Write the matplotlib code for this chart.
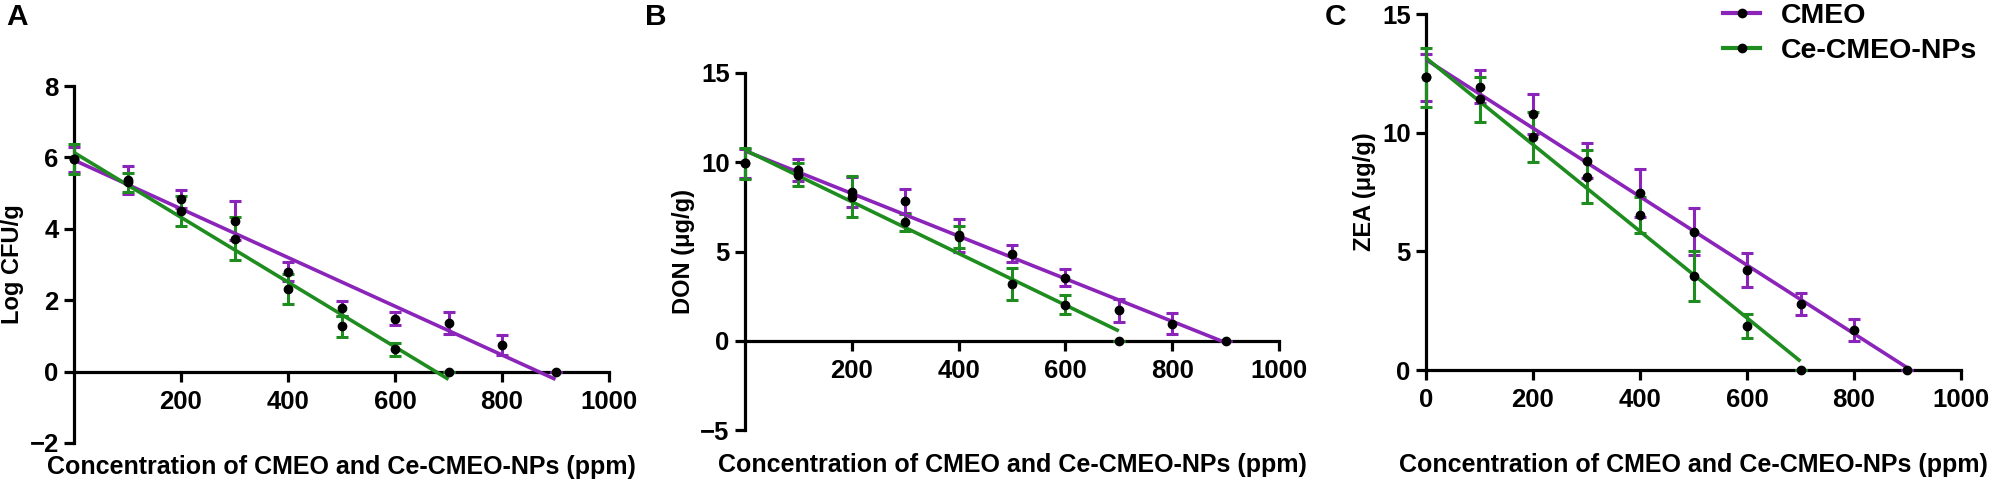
import numpy as np
import matplotlib
matplotlib.use("Agg")
import matplotlib.pyplot as plt
from matplotlib.lines import Line2D

plt.rcParams['font.family'] = ['Liberation Sans', 'DejaVu Sans']
plt.rcParams['font.weight'] = 'bold'

PURPLE = "#8B24B8"
GREEN = "#1F8C1F"

# ---------------- data ----------------
x_cmeo = [0, 100, 200, 300, 400, 500, 600, 700, 800, 900]
x_np = [0, 100, 200, 300, 400, 500, 600, 700]

# Panel A : Log CFU/g
A_cmeo = [5.95, 5.37, 4.83, 4.23, 2.80, 1.78, 1.48, 1.36, 0.74, 0.0]
A_cmeo_err = [0.35, 0.40, 0.26, 0.54, 0.27, 0.21, 0.18, 0.30, 0.28, 0.0]
A_np = [5.96, 5.30, 4.50, 3.72, 2.31, 1.27, 0.62, 0.0]
A_np_err = [0.42, 0.27, 0.42, 0.60, 0.41, 0.30, 0.18, 0.0]

# Panel B : DON (ug/g)
B_cmeo = [9.94, 9.57, 8.36, 7.83, 5.90, 4.87, 3.54, 1.70, 0.95, 0.0]
B_cmeo_err = [0.80, 0.60, 0.84, 0.67, 0.93, 0.47, 0.47, 0.65, 0.59, 0.0]
B_np = [9.94, 9.30, 8.08, 6.64, 5.80, 3.17, 2.01, 0.0]
B_np_err = [0.88, 0.65, 1.15, 0.48, 0.62, 0.88, 0.53, 0.0]

# Panel C : ZEA (ug/g)
C_cmeo = [12.33, 11.94, 10.78, 8.81, 7.45, 5.83, 4.21, 2.78, 1.69, 0.0]
C_cmeo_err = [1.00, 0.70, 0.84, 0.74, 1.00, 0.98, 0.73, 0.48, 0.45, 0.0]
C_np = [12.33, 11.41, 9.83, 8.15, 6.53, 3.96, 1.85, 0.0]
C_np_err = [1.25, 0.95, 1.05, 1.13, 0.75, 1.05, 0.50, 0.0]

xlabel = "Concentration of CMEO and Ce-CMEO-NPs (ppm)"
series_labels = ["CMEO", "Ce-CMEO-NPs"]

W, H = 2000, 483
fig = plt.figure(figsize=(W / 100, H / 100), dpi=100)


def px_axes(l, r, top, bot):
    return [l / W, 1 - bot / H, (r - l) / W, (bot - top) / H]


panels = [
    dict(rect=px_axes(74, 609, 86, 443), ylim=(-2, 8), yticks=[-2, 0, 2, 4, 6, 8],
         xticks=[200, 400, 600, 800, 1000], ylabel="Log CFU/g",
         cm=A_cmeo, cme=A_cmeo_err, npv=A_np, npe=A_np_err, mid=True,
         letter="A", lx=17, xl_y=467),
    dict(rect=px_axes(745, 1279, 73, 430), ylim=(-5, 15), yticks=[-5, 0, 5, 10, 15],
         xticks=[200, 400, 600, 800, 1000], ylabel="DON (μg/g)",
         cm=B_cmeo, cme=B_cmeo_err, npv=B_np, npe=B_np_err, mid=True,
         letter="B", lx=656, xl_y=465),
    dict(rect=px_axes(1426, 1961, 14, 370), ylim=(0, 15), yticks=[0, 5, 10, 15],
         xticks=[0, 200, 400, 600, 800, 1000], ylabel="ZEA (μg/g)",
         cm=C_cmeo, cme=C_cmeo_err, npv=C_np, npe=C_np_err, mid=False,
         letter="C", lx=1336, xl_y=465),
]

for p in panels:
    ax = fig.add_axes(p['rect'])
    ax.set_xlim(0, 1000)
    ax.set_ylim(*p['ylim'])
    ax.spines['top'].set_visible(False)
    ax.spines['right'].set_visible(False)
    for s in ('left', 'bottom'):
        ax.spines[s].set_linewidth(2.3)
    if p['mid']:
        ax.spines['bottom'].set_position(('data', 0))
    ax.set_xticks(p['xticks'])
    ax.set_yticks(p['yticks'])
    ax.tick_params(axis='both', width=2.3, length=7, labelsize=18.5, pad=4)
    ax.tick_params(axis='x', pad=6)
    for t in ax.get_xticklabels() + ax.get_yticklabels():
        t.set_fontweight('bold')
    ax.set_facecolor('none')

    for xs, ys, es, col in ((x_cmeo, p['cm'], p['cme'], PURPLE),
                            (x_np, p['npv'], p['npe'], GREEN)):
        ax.errorbar(xs, ys, yerr=es, fmt='none', ecolor=col, elinewidth=2.2,
                    capsize=4, capthick=2.2, zorder=3, clip_on=False)
        k, b = np.polyfit(xs, ys, 1)
        xf = np.array([min(xs), max(xs)])
        ax.plot(xf, k * xf + b, color=col, lw=2.6, zorder=4, clip_on=False,
                solid_capstyle='butt')
    for xs, ys in ((x_cmeo, p['cm']), (x_np, p['npv'])):
        ax.plot(xs, ys, 'o', color='black', ms=6, zorder=5, clip_on=False)

    # axis labels
    bot_px = (1 - p['rect'][1]) * H
    hpx = p['rect'][3] * H
    ax.set_xlabel(xlabel, fontsize=18, fontweight='bold')
    ax.xaxis.set_label_coords(0.5, (bot_px - p['xl_y']) / hpx)
    ax.xaxis.label.set_va('center')
    ax.set_ylabel(p['ylabel'], fontsize=17, fontweight='bold')
    ax.yaxis.set_label_coords(-0.115, 0.5)
    ax.yaxis.label.set_va('center')

    fig.text(p['lx'] / W, 1 - 17 / H, p['letter'], fontsize=21.5, fontweight='bold',
             ha='center', va='center')

handles = [Line2D([0], [0], color=PURPLE, lw=3, marker='o', mfc='black', mec='black', ms=6),
           Line2D([0], [0], color=GREEN, lw=3, marker='o', mfc='black', mec='black', ms=6)]
fig.legend(handles, series_labels, loc='upper left', bbox_to_anchor=(1723 / W, 1 - 3 / H),
           frameon=False, prop={'weight': 'bold', 'size': 20.5},
           handlelength=1.3, handletextpad=0.75, labelspacing=0.3, borderpad=0.0,
           borderaxespad=0.0)

fig.savefig("out.png", dpi=100)
